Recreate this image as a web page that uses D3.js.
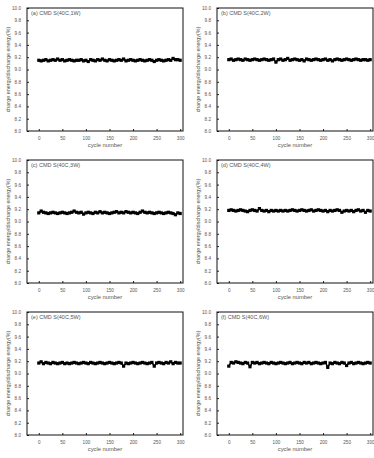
<!DOCTYPE html>
<html>
<head>
<meta charset="utf-8">
<script src="https://cdn.jsdelivr.net/npm/d3@7"></script>
<style>
  body { margin: 0; background: #fff; }
  svg { display: block; font-family: "Liberation Sans", Arial, sans-serif; }
</style>
</head>
<body>
<div id="chart"></div>
<script>
// Datos: ciclos y eficiencia de carga/descarga por panel
const cycles = [0,5,10,15,20,25,30,35,40,45,50,55,60,65,70,75,80,85,90,95,
  100,105,110,115,120,125,130,135,140,145,150,155,160,165,170,175,180,185,190,195,
  200,205,210,215,220,225,230,235,240,245,250,255,260,265,270,275,280,285,290,295,300];

const panelTitles = ["(a) CMD S(40C,1W)", "(b) CMD S(40C,2W)", "(c) CMD S(40C,3W)",
  "(d) CMD S(40C,4W)", "(e) CMD S(40C,5W)", "(f) CMD S(40C,6W)"];

const seriesA = [9.15,9.14,9.15,9.16,9.14,9.15,9.16,9.15,9.17,9.15,
  9.16,9.14,9.15,9.16,9.15,9.14,9.15,9.15,9.16,9.14,
  9.15,9.13,9.16,9.15,9.14,9.16,9.15,9.17,9.15,9.14,
  9.16,9.15,9.14,9.15,9.16,9.15,9.17,9.14,9.15,9.16,
  9.15,9.14,9.15,9.16,9.15,9.14,9.15,9.16,9.15,9.13,
  9.15,9.16,9.15,9.14,9.15,9.16,9.15,9.18,9.16,9.16,
  9.15];
const seriesB = [9.16,9.17,9.15,9.16,9.17,9.16,9.15,9.17,9.16,9.15,
  9.16,9.17,9.16,9.15,9.16,9.17,9.16,9.15,9.16,9.17,
  9.12,9.16,9.17,9.15,9.16,9.18,9.15,9.16,9.17,9.16,
  9.15,9.16,9.14,9.17,9.16,9.15,9.16,9.17,9.16,9.15,
  9.16,9.17,9.15,9.16,9.14,9.16,9.17,9.16,9.15,9.16,
  9.17,9.16,9.15,9.16,9.17,9.16,9.15,9.16,9.16,9.15,
  9.16];
const seriesC = [9.14,9.17,9.15,9.14,9.13,9.14,9.15,9.14,9.13,9.14,
  9.15,9.14,9.13,9.14,9.15,9.17,9.15,9.14,9.15,9.12,
  9.14,9.15,9.14,9.13,9.15,9.14,9.16,9.14,9.15,9.14,
  9.13,9.14,9.15,9.16,9.14,9.15,9.14,9.16,9.15,9.14,
  9.15,9.14,9.13,9.15,9.17,9.15,9.14,9.15,9.14,9.13,
  9.14,9.15,9.14,9.13,9.14,9.15,9.14,9.13,9.11,9.14,
  9.13];
const seriesD = [9.18,9.19,9.18,9.17,9.18,9.19,9.18,9.17,9.16,9.18,
  9.19,9.18,9.17,9.21,9.18,9.17,9.18,9.16,9.18,9.17,
  9.18,9.17,9.18,9.17,9.18,9.17,9.18,9.19,9.18,9.17,
  9.18,9.19,9.18,9.17,9.18,9.19,9.17,9.18,9.19,9.18,
  9.17,9.18,9.16,9.18,9.17,9.18,9.19,9.18,9.15,9.17,
  9.18,9.17,9.18,9.16,9.18,9.19,9.17,9.18,9.15,9.18,
  9.17];
const seriesE = [9.17,9.19,9.16,9.18,9.17,9.16,9.18,9.17,9.16,9.17,
  9.18,9.16,9.17,9.16,9.17,9.18,9.17,9.16,9.17,9.18,
  9.17,9.16,9.18,9.17,9.16,9.17,9.18,9.17,9.16,9.17,
  9.18,9.17,9.16,9.17,9.18,9.17,9.12,9.17,9.16,9.17,
  9.18,9.17,9.16,9.17,9.18,9.17,9.16,9.17,9.18,9.12,
  9.17,9.18,9.17,9.16,9.18,9.17,9.19,9.16,9.18,9.17,
  9.17];
const seriesF = [9.12,9.18,9.17,9.19,9.18,9.17,9.16,9.18,9.17,9.11,
  9.18,9.17,9.18,9.16,9.17,9.18,9.17,9.16,9.18,9.17,
  9.16,9.17,9.18,9.17,9.16,9.17,9.18,9.16,9.17,9.18,
  9.17,9.16,9.18,9.17,9.18,9.16,9.17,9.18,9.17,9.16,
  9.17,9.18,9.10,9.17,9.16,9.18,9.17,9.16,9.18,9.17,
  9.13,9.17,9.18,9.16,9.17,9.18,9.17,9.16,9.17,9.18,
  9.17];

const allSeries = [seriesA, seriesB, seriesC, seriesD, seriesE, seriesF];
const xTicks = [0, 50, 100, 150, 200, 250, 300];
const yTicks = [8.0, 8.2, 8.4, 8.6, 8.8, 9.0, 9.2, 9.4, 9.6, 9.8, 10.0];

const width = 374, height = 458;
const colLeft = [27, 217];
const rowTop = [8, 160, 312];
const frameW = 156, frameH = 123;
const textColor = "#555";

const svg = d3.select("#chart").append("svg")
    .attr("width", width)
    .attr("height", height);

const x = d3.scaleLinear().domain([-25, 306]).range([0, frameW]);
const y = d3.scaleLinear().domain([8.0, 10.0]).range([frameH, 0]);

allSeries.forEach((values, i) => {
    const left = colLeft[i % 2];
    const top = rowTop[Math.floor(i / 2)];
    const g = svg.append("g").attr("transform", `translate(${left},${top})`);
    const pts = cycles.map((c, k) => [c, values[k]]);

    // Ejes
    const xAxis = g.append("g")
        .attr("transform", `translate(0,${frameH})`)
        .call(d3.axisBottom(x).tickValues(xTicks).tickSize(-2).tickPadding(6));
    const yAxis = g.append("g")
        .call(d3.axisLeft(y).tickValues(yTicks).tickSize(-2).tickPadding(6)
            .tickFormat(d3.format(".1f")));
    [xAxis, yAxis].forEach(a => {
        a.select(".domain").remove();
        a.selectAll("line").attr("stroke", "#222");
        a.selectAll("text").attr("fill", textColor).attr("font-size", "4.6px");
    });

    // Marco
    g.append("rect")
        .attr("width", frameW).attr("height", frameH)
        .attr("fill", "none").attr("stroke", "#111").attr("stroke-width", 1);

    // Línea y marcadores
    g.append("path")
        .datum(pts)
        .attr("fill", "none")
        .attr("stroke", "#000")
        .attr("stroke-width", 1.6)
        .attr("d", d3.line().x(d => x(d[0])).y(d => y(d[1])));
    g.selectAll("rect.pt")
        .data(pts)
        .join("rect")
        .attr("class", "pt")
        .attr("x", d => x(d[0]) - 1.6)
        .attr("y", d => y(d[1]) - 1.6)
        .attr("width", 3.2).attr("height", 3.2)
        .attr("fill", "#000");

    // Título del panel
    g.append("text")
        .attr("x", 4).attr("y", 7)
        .attr("font-size", "5.5px")
        .attr("fill", textColor)
        .text(panelTitles[i]);

    // Etiquetas de ejes
    g.append("text")
        .attr("x", frameW / 2).attr("y", frameH + 16)
        .attr("text-anchor", "middle")
        .attr("font-size", "5.8px")
        .attr("fill", textColor)
        .text("cycle number");
    g.append("text")
        .attr("transform", `translate(-17,${frameH / 2}) rotate(-90)`)
        .attr("text-anchor", "middle")
        .attr("font-size", "5.4px")
        .attr("fill", textColor)
        .text("charge energy/discharge energy(%)");
});
</script>
</body>
</html>
